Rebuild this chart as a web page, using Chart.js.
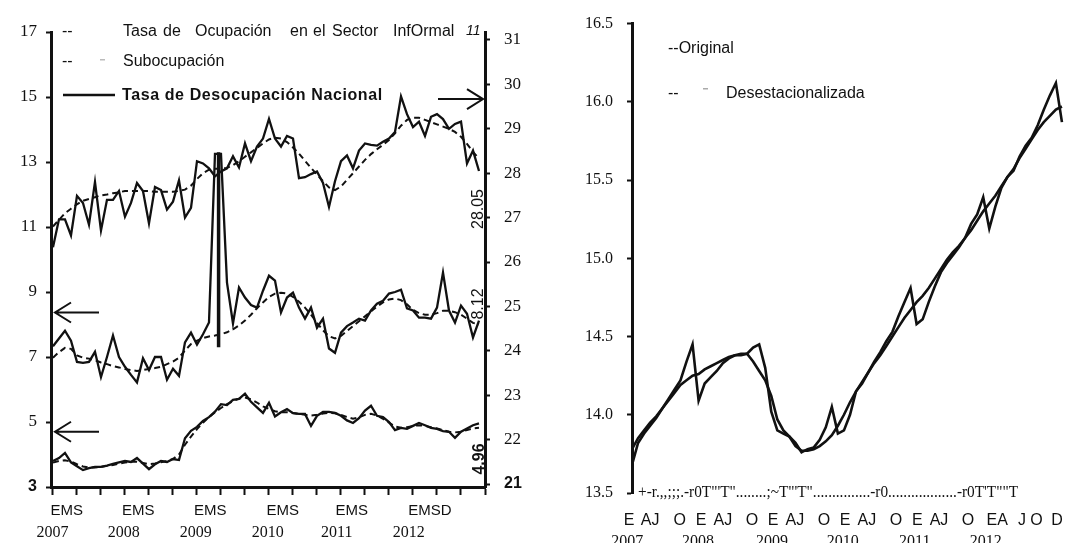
<!DOCTYPE html>
<html>
<head>
<meta charset="utf-8">
<script src="https://cdn.jsdelivr.net/npm/chart.js@4.4.1/dist/chart.umd.min.js"></script>
<style>
  html, body { margin: 0; padding: 0; background: #fff; }
  .panel { position: absolute; top: 0; height: 543px; }
  #izq { left: 0; width: 540px; }
  #der { left: 540px; width: 547px; }
</style>
</head>
<body>
<div class="panel" id="izq"><canvas id="empleo"></canvas></div>
<div class="panel" id="der"><canvas id="serie"></canvas></div>
<script>
// Monthly series, January 2007 (index 0) to December 2012 (index 71)

// Tasa de ocupación en el sector informal (right axis)
const informal = [
  26.33, 26.96, 26.96, 26.6, 27.49, 27.33, 26.84, 27.8, 26.71, 27.4, 27.4, 27.6,
  27.02, 27.33, 27.78, 27.6, 26.87, 27.69, 27.62, 27.18, 27.36, 27.84, 27.0, 27.22,
  28.27, 28.22, 28.11, 27.93, 28.04, 28.11, 28.38, 28.13, 28.67, 28.27, 28.6, 28.78,
  29.22, 28.78, 28.6, 28.84, 28.78, 27.89, 27.91, 27.98, 28.04, 27.78, 27.24, 27.82,
  28.27, 28.4, 28.11, 28.51, 28.67, 28.64, 28.62, 28.71, 28.78, 28.93, 29.73, 29.33,
  29.04, 29.16, 28.84, 29.27, 29.33, 29.22, 29.0, 29.11, 29.16, 28.22, 28.51, 28.05
];
const informalTendencia = [
  26.8, 26.95, 27.1, 27.2, 27.3, 27.38, 27.42, 27.46, 27.5, 27.52, 27.55, 27.57,
  27.6, 27.6, 27.6, 27.6, 27.6, 27.58, 27.58, 27.58, 27.58, 27.6, 27.63, 27.72,
  27.87, 28.0, 28.08, 28.1, 28.1, 28.12, 28.18, 28.27, 28.37, 28.47, 28.57, 28.67,
  28.76, 28.8, 28.78, 28.7, 28.58, 28.44, 28.28, 28.12, 27.97, 27.82, 27.68, 27.62,
  27.7, 27.85, 28.0, 28.15, 28.3, 28.43, 28.54, 28.64, 28.75, 28.9, 29.07, 29.2,
  29.25, 29.25, 29.2, 29.15, 29.1, 29.05, 29.0, 28.93, 28.82, 28.66, 28.48, 28.33
];

// Subocupación (left axis)
const subocupacion = [
  7.33, 7.57, 7.81, 7.5, 6.85, 6.82, 6.85, 7.16, 6.38, 7.0, 7.66, 7.0,
  6.7, 6.45, 6.22, 6.96, 6.6, 7.0, 7.0, 6.3, 6.64, 6.42, 7.45, 7.75,
  7.38, 7.7, 8.06, 13.25, 13.25, 9.29, 8.03, 9.14, 8.83, 8.6, 8.52, 9.04,
  9.5, 9.35, 8.37, 8.83, 8.98, 8.52, 8.18, 8.52, 7.9, 8.18, 7.26, 7.13,
  7.75, 7.95, 8.06, 8.18, 8.12, 8.43, 8.64, 8.73, 8.95, 9.0, 9.07, 8.5,
  8.43, 8.21, 8.21, 8.18, 8.52, 9.6, 8.43, 8.06, 8.58, 8.33, 7.6, 8.12
];
const subocupacionTendencia = [
  6.98, 7.15, 7.28, 7.25, 7.05, 6.98, 6.95, 6.9, 6.83, 6.78, 6.72, 6.68,
  6.63, 6.6, 6.57, 6.6, 6.63, 6.66, 6.7, 6.78, 6.86, 6.98, 7.2, 7.4,
  7.5, 7.58, 7.63, 7.66, 7.7, 7.76, 7.85, 7.97, 8.12, 8.3, 8.5, 8.68,
  8.85, 8.95, 8.98, 8.95, 8.85, 8.7, 8.52, 8.3, 8.05, 7.82, 7.64, 7.57,
  7.65, 7.8, 7.95, 8.1, 8.25, 8.4, 8.55, 8.68, 8.77, 8.8, 8.75, 8.62,
  8.45, 8.35, 8.3, 8.3, 8.35, 8.42, 8.42, 8.38, 8.3, 8.18, 8.05, 8.0
];
// vertical mark at the 2009 break
const quiebreMes = [27.6, 27.6];
const quiebreValor = [13.3, 7.3];

// Tasa de desocupación nacional (left axis)
const desocupacion = [
  3.8, 3.89, 4.05, 3.76, 3.64, 3.52, 3.58, 3.62, 3.62, 3.66, 3.71, 3.76,
  3.8, 3.77, 3.89, 3.72, 3.55, 3.7, 3.8, 3.77, 3.86, 3.83, 4.5, 4.73,
  4.85, 5.03, 5.15, 5.32, 5.55, 5.52, 5.68, 5.71, 5.87, 5.62, 5.45, 5.28,
  5.59, 5.17, 5.3, 5.4, 5.27, 5.25, 5.25, 4.88, 5.19, 5.31, 5.31, 5.28,
  5.19, 5.05, 4.97, 5.12, 5.35, 5.5, 5.19, 5.15, 5.0, 4.75, 4.82, 4.79,
  4.88, 4.97, 4.9, 4.82, 4.79, 4.72, 4.7, 4.51, 4.7, 4.8, 4.9, 4.96
];
const desocupacionTendencia = [
  3.75, 3.8, 3.82, 3.78, 3.7, 3.63, 3.6, 3.6, 3.62, 3.65, 3.68, 3.72,
  3.75, 3.78, 3.78, 3.74, 3.7, 3.72, 3.76, 3.8, 3.86, 4.0, 4.3, 4.55,
  4.78, 4.98, 5.15, 5.3, 5.43, 5.55, 5.64, 5.72, 5.75, 5.7, 5.6, 5.48,
  5.4, 5.33, 5.3, 5.3, 5.28, 5.25, 5.22, 5.2, 5.22, 5.26, 5.28, 5.27,
  5.22, 5.15, 5.1, 5.14, 5.22, 5.25, 5.2, 5.1, 4.98, 4.86, 4.82, 4.84,
  4.88, 4.9, 4.88, 4.84, 4.8, 4.75, 4.7, 4.68, 4.7, 4.75, 4.8, 4.82
];

// Right panel: original and seasonally adjusted series
const original = [
  13.68, 13.82, 13.88, 13.93, 13.98, 14.04, 14.1, 14.16, 14.22, 14.34, 14.45, 14.09,
  14.2, 14.24, 14.28, 14.33, 14.36, 14.38, 14.38, 14.39, 14.43, 14.45, 14.3, 14.02,
  13.9, 13.88, 13.86, 13.82, 13.76, 13.78, 13.79, 13.84, 13.92, 14.05, 13.88, 13.9,
  14.0, 14.15, 14.2, 14.27, 14.34, 14.4, 14.47, 14.53, 14.63, 14.72, 14.81, 14.58,
  14.61, 14.72, 14.82, 14.91, 14.97, 15.02, 15.07, 15.13, 15.22, 15.28, 15.39, 15.19,
  15.33, 15.45, 15.52, 15.56, 15.65, 15.72, 15.77, 15.85, 15.95, 16.04, 16.12, 15.87
];
const desestacionalizada = [
  13.78, 13.85, 13.9, 13.95, 13.99, 14.04, 14.09, 14.14, 14.19, 14.22, 14.25, 14.26,
  14.29, 14.31, 14.33, 14.35, 14.37, 14.38, 14.39, 14.39, 14.34, 14.28, 14.22, 14.12,
  13.97, 13.9, 13.86, 13.8, 13.77, 13.77, 13.78, 13.8, 13.83, 13.87, 13.93, 14.0,
  14.08, 14.15, 14.21, 14.27, 14.33, 14.38, 14.44, 14.5, 14.56, 14.62, 14.67, 14.72,
  14.76, 14.81, 14.87, 14.93, 14.99, 15.04, 15.08, 15.13, 15.18, 15.24, 15.3, 15.35,
  15.4, 15.46, 15.52, 15.57, 15.64, 15.7, 15.76, 15.82, 15.87, 15.91, 15.95, 15.97
];

// Axis ticks and labels
const ticksIzq = [3, 5, 7, 9, 11, 13, 15, 17];
const ticksDer = [21, 22, 23, 24, 25, 26, 27, 28, 29, 30, 31];
const marcasMes = [0, 4, 8, 12, 16, 20, 24, 28, 32, 36, 40, 44, 48, 52, 56, 60, 64, 68, 72];
const letrasEMS = ['EMS', 'EMS', 'EMS', 'EMS', 'EMS', 'EMSD'];
const mesEMS = [2.3, 14.2, 26.2, 38.3, 49.8, 62.8];
const anios = ['2007', '2008', '2009', '2010', '2011', '2012'];
const mesAnioIzq = [-0.1, 11.8, 23.8, 35.8, 47.3, 59.3];
const ticksPanelDer = [13.5, 14.0, 14.5, 15.0, 15.5, 16.0, 16.5];
const letrasTrim = ['E', 'AJ', 'O', 'E', 'AJ', 'O', 'E', 'AJ', 'O', 'E', 'AJ', 'O', 'E', 'AJ', 'O', 'EA', 'J', 'O', 'D'];
const mesTrim = [-0.5, 3.0, 7.9, 11.4, 15.0, 19.8, 23.3, 26.9, 31.7, 35.2, 38.8, 43.6, 47.1, 50.7, 55.5, 60.3, 64.4, 66.8, 70.2];
const mesAnioDer = [-0.8, 10.9, 23.1, 34.8, 46.7, 58.4];
const ejeEscaneado = '+-r.,,;;;.-r0T"\'T"........;~T"\'T"...............-r0..................-r0T\'T""T';

const SANS = '"Liberation Sans", Arial, sans-serif';
const SERIF = '"Liberation Serif", "Times New Roman", serif';
const negro = '#111';

const linea = (ys, extra) => Object.assign({
  data: ys.map((y, i) => ({ x: i, y })),
  borderColor: negro, borderWidth: 2.3, pointRadius: 0, tension: 0, fill: false
}, extra);
const punteada = { borderDash: [6, 4], borderWidth: 2 };

const ejeY = (ticks, fit, extra) => Object.assign({
  afterBuildTicks: s => { s.ticks = ticks.map(v => ({ value: v })); },
  afterFit: s => { s.width = fit; },
  border: { display: true, color: negro, width: 3 },
  grid: { drawOnChartArea: false, drawTicks: true, tickLength: 5, tickWidth: 2, tickColor: negro }
}, extra);

function flecha(ctx, x0, x1, y) {
  const d = x1 > x0 ? -16 : 16;
  ctx.beginPath();
  ctx.moveTo(x0, y); ctx.lineTo(x1, y);
  ctx.moveTo(x1 + d, y - 10); ctx.lineTo(x1, y); ctx.lineTo(x1 + d, y + 10);
  ctx.stroke();
}

function vertical(ctx, texto, x, y, font) {
  ctx.save();
  ctx.translate(x, y);
  ctx.rotate(-Math.PI / 2);
  ctx.font = font;
  ctx.textAlign = 'center';
  ctx.fillText(texto, 0, 0);
  ctx.restore();
}

const adornosEmpleo = {
  id: 'adornosEmpleo',
  afterDraw(chart) {
    const { ctx, scales } = chart;
    ctx.save();
    ctx.fillStyle = negro;
    ctx.strokeStyle = negro;
    ctx.textBaseline = 'middle';

    // month initials and years under the axis
    ctx.textAlign = 'center';
    ctx.font = '15px ' + SANS;
    letrasEMS.forEach((t, i) => ctx.fillText(t, scales.x.getPixelForValue(mesEMS[i]), 511));
    ctx.font = '16px ' + SERIF;
    anios.forEach((t, i) => ctx.fillText(t, scales.x.getPixelForValue(mesAnioIzq[i]), 533));

    // legend
    ctx.textAlign = 'left';
    ctx.font = '16px ' + SANS;
    ctx.fillText('--', 62, 32);
    [['Tasa', 123], ['de', 163], ['Ocupación', 195], ['en', 290], ['el', 313], ['Sector', 332], ['InfOrmal', 393]]
      .forEach(([t, x]) => ctx.fillText(t, x, 32));
    ctx.font = 'italic 14px ' + SANS;
    ctx.fillText('11', 466, 31);
    ctx.font = '16px ' + SANS;
    ctx.fillText('--', 62, 62);
    ctx.fillText('Subocupación', 123, 62);
    ctx.fillStyle = '#bbb';
    ctx.fillRect(100, 59, 5, 1.5);
    ctx.fillStyle = negro;
    ctx.lineWidth = 2.5;
    ctx.beginPath(); ctx.moveTo(63, 95); ctx.lineTo(115, 95); ctx.stroke();
    ctx.font = 'bold 16px ' + SANS;
    ctx.letterSpacing = '0.6px';
    ctx.fillText('Tasa de Desocupación Nacional', 122, 96);
    ctx.letterSpacing = '0px';

    // arrows pointing to the axis of each series
    ctx.lineWidth = 2;
    flecha(ctx, 438, 483, scales.y1.getPixelForValue(29.67));
    flecha(ctx, 99, 55, scales.y.getPixelForValue(8.37));
    flecha(ctx, 99, 55, scales.y.getPixelForValue(4.7));

    // last observed values
    vertical(ctx, '28.05', 479, 209, '16px ' + SANS);
    vertical(ctx, '8.12', 479, 304, '16px ' + SANS);
    vertical(ctx, '4.96', 480, 459, 'bold 16px ' + SANS);
    ctx.restore();
  }
};

const adornosSerie = {
  id: 'adornosSerie',
  afterDraw(chart) {
    const { ctx, scales } = chart;
    ctx.save();
    ctx.fillStyle = negro;
    ctx.textBaseline = 'middle';

    ctx.textAlign = 'center';
    ctx.font = '16px ' + SANS;
    letrasTrim.forEach((t, i) => ctx.fillText(t, scales.x.getPixelForValue(mesTrim[i]), 521));
    ctx.font = '16px ' + SERIF;
    anios.forEach((t, i) => ctx.fillText(t, scales.x.getPixelForValue(mesAnioDer[i]), 542));

    // the horizontal axis, as printed
    ctx.textAlign = 'left';
    ctx.font = '16px ' + SERIF;
    const w = ctx.measureText(ejeEscaneado).width;
    ctx.save();
    ctx.translate(98, 493);
    ctx.scale(380 / w, 1);
    ctx.fillText(ejeEscaneado, 0, 0);
    ctx.restore();

    // legend
    ctx.font = '16px ' + SANS;
    ctx.fillText('--Original', 128, 49);
    ctx.fillText('--', 128, 94);
    ctx.fillStyle = '#aaa';
    ctx.fillRect(163, 88, 5, 1.5);
    ctx.fillStyle = negro;
    ctx.fillText('Desestacionalizada', 186, 94);
    ctx.restore();
  }
};

Chart.defaults.color = negro;
Chart.defaults.font.family = SERIF;

new Chart(document.getElementById('empleo'), {
  type: 'line',
  data: {
    datasets: [
      linea(informal, { yAxisID: 'y1' }),
      linea(informalTendencia, Object.assign({ yAxisID: 'y1' }, punteada)),
      linea(subocupacion, { yAxisID: 'y' }),
      linea(subocupacionTendencia, Object.assign({ yAxisID: 'y' }, punteada)),
      linea(desocupacion, { yAxisID: 'y' }),
      linea(desocupacionTendencia, Object.assign({ yAxisID: 'y' }, punteada)),
      {
        data: quiebreMes.map((x, i) => ({ x, y: quiebreValor[i] })),
        yAxisID: 'y', borderColor: negro, borderWidth: 3.5, pointRadius: 0
      }
    ]
  },
  options: {
    responsive: true,
    maintainAspectRatio: false,
    animation: false,
    layout: { padding: { top: 32 } },
    plugins: { legend: { display: false }, tooltip: { enabled: false } },
    scales: {
      x: {
        type: 'linear', min: -0.33, max: 72,
        afterBuildTicks: s => { s.ticks = marcasMes.map(v => ({ value: v })); },
        afterFit: s => { s.height = 56; },
        border: { display: true, color: negro, width: 3 },
        grid: { drawOnChartArea: false, drawTicks: true, tickLength: 8, tickWidth: 2, tickColor: negro },
        ticks: { autoSkip: false, callback: () => '' }
      },
      y: ejeY(ticksIzq, 51, {
        position: 'left', min: 3, max: 17,
        ticks: {
          padding: 9,
          callback: v => String(v),
          font: c => (c.tick && c.tick.value === 3)
            ? { family: SANS, size: 16, weight: 'bold' }
            : { family: SERIF, size: 17 }
        }
      }),
      y1: ejeY(ticksDer, 55, {
        position: 'right', min: 20.933, max: 31.18,
        ticks: {
          padding: 14,
          callback: v => String(v),
          font: c => (c.tick && c.tick.value === 21)
            ? { family: SANS, size: 16, weight: 'bold' }
            : { family: SERIF, size: 17 }
        }
      })
    }
  },
  plugins: [adornosEmpleo]
});

new Chart(document.getElementById('serie'), {
  type: 'line',
  data: {
    datasets: [
      linea(original, { borderWidth: 2.6 }),
      linea(desestacionalizada, { borderWidth: 2.6 })
    ]
  },
  options: {
    responsive: true,
    maintainAspectRatio: false,
    animation: false,
    layout: { padding: { top: 18, right: 19 } },
    plugins: { legend: { display: false }, tooltip: { enabled: false } },
    scales: {
      x: {
        type: 'linear', min: 0, max: 72,
        afterFit: s => { s.height = 50; },
        border: { display: false },
        grid: { display: false },
        ticks: { callback: () => '' }
      },
      y: ejeY(ticksPanelDer, 92, {
        min: 13.5, max: 16.5,
        ticks: { padding: 14, callback: v => v.toFixed(1), font: { family: SERIF, size: 16 } }
      })
    }
  },
  plugins: [adornosSerie]
});
</script>
</body>
</html>
